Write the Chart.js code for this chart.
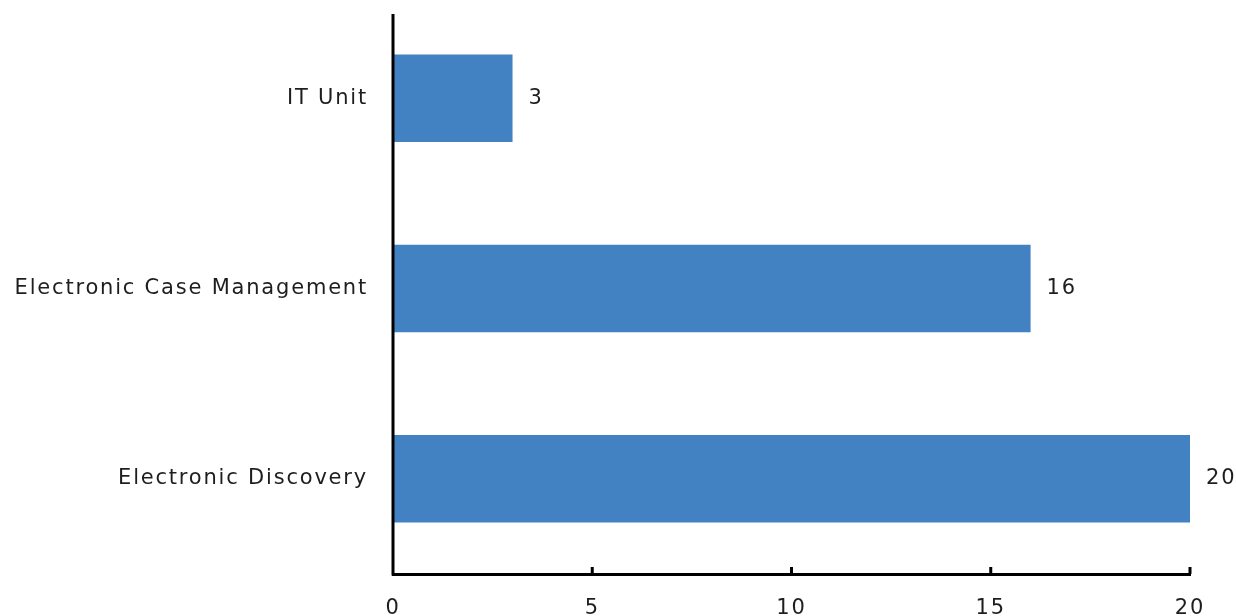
<!DOCTYPE html>
<html>
<head>
<meta charset="utf-8">
<script src="https://cdn.jsdelivr.net/npm/chart.js@4"></script>
<style>
  html, body { margin: 0; padding: 0; background: #fff; }
  #wrap { width: 1236px; height: 616px; position: relative; }
</style>
</head>
<body>
<div id="wrap"><canvas id="chart"></canvas></div>
<script>
const categories = ['IT Unit', 'Electronic Case Management', 'Electronic Discovery'];
const counts = [3, 16, 20];
const xTicks = [0, 5, 10, 15, 20];

const FONT = '"DejaVu Sans", sans-serif';

// wider tracking like the original
const tracking = {
  id: 'tracking',
  beforeDraw(chart) { chart.ctx.letterSpacing = '1.8px'; }
};

// axis lines, inner tick marks and value labels
const decor = {
  id: 'decor',
  afterDatasetsDraw(chart) {
    const ctx = chart.ctx;
    const area = chart.chartArea;
    const x = chart.scales.x;
    ctx.save();
    ctx.strokeStyle = '#000';
    ctx.lineWidth = 3;
    ctx.beginPath();
    ctx.moveTo(area.left, area.top + 11);
    ctx.lineTo(area.left, area.bottom + 1.5);
    ctx.stroke();
    xTicks.forEach(v => {
      if (v === 0) return;
      const px = x.getPixelForValue(v);
      ctx.beginPath();
      ctx.moveTo(px, area.bottom);
      ctx.lineTo(px, area.bottom - 7);
      ctx.stroke();
    });
    ctx.fillStyle = '#1e1e1e';
    ctx.font = '21px ' + FONT;
    ctx.textBaseline = 'middle';
    ctx.textAlign = 'left';
    chart.getDatasetMeta(0).data.forEach((bar, i) => {
      ctx.fillText(String(counts[i]), bar.x + 16, bar.y);
    });
    ctx.restore();
  }
};

new Chart(document.getElementById('chart'), {
  type: 'bar',
  data: {
    labels: categories,
    datasets: [{
      data: counts,
      backgroundColor: '#4382c2',
      borderWidth: 0,
      categoryPercentage: 1,
      barPercentage: 0.46
    }]
  },
  options: {
    indexAxis: 'y',
    responsive: true,
    maintainAspectRatio: false,
    animation: false,
    layout: { padding: { top: 3, right: 46, left: 0, bottom: 0 } },
    plugins: { legend: { display: false }, tooltip: { enabled: false } },
    scales: {
      x: {
        min: 0,
        max: 20,
        afterFit: s => { s.height = 42; s.paddingLeft = 0; s.paddingRight = 0; },
        afterBuildTicks: s => { s.ticks = xTicks.map(v => ({ value: v })); },
        grid: { display: false, drawTicks: false },
        border: { display: true, color: '#000', width: 3 },
        ticks: { color: '#1e1e1e', font: { family: FONT, size: 21 }, padding: 22 }
      },
      y: {
        afterFit: s => { s.width = 393; s.paddingTop = 0; s.paddingBottom = 0; },
        grid: { display: false, drawTicks: false },
        border: { display: false },
        ticks: { color: '#1e1e1e', font: { family: FONT, size: 21 }, padding: 25 }
      }
    }
  },
  plugins: [tracking, decor]
});
</script>
</body>
</html>
